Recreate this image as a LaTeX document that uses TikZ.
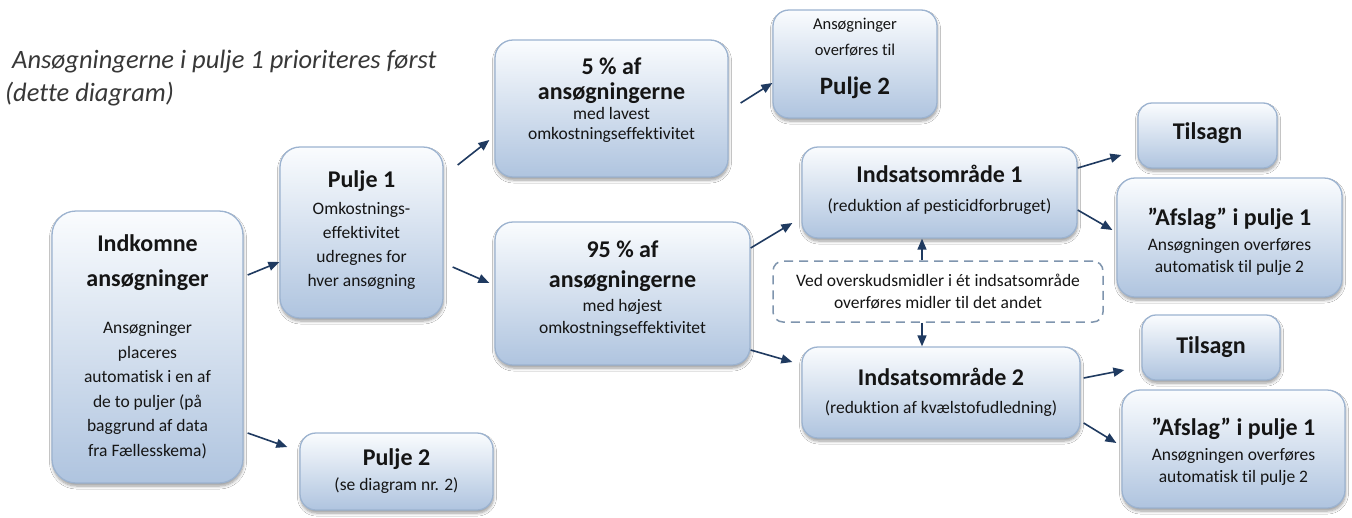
\documentclass[tikz,border=0pt]{standalone}
\usepackage{fontspec}
\setmainfont{Carlito}[Ligatures={NoCommon}]
\usetikzlibrary{shadows.blur,arrows.meta,calc}
\definecolor{arrc}{HTML}{1F3A60}
\definecolor{bord}{HTML}{9CB3D0}
\definecolor{topc}{HTML}{FAFCFE}
\definecolor{botc}{HTML}{AFC4DF}
\definecolor{dashc}{HTML}{7F95AE}
\definecolor{txt}{HTML}{151515}
\newcommand\hd[1]{{\fontsize{24}{24}\selectfont\bfseries #1}}
\newcommand\lsk{\lineskiplimit -50pt\relax}
\newcommand\bodyfs[1]{\fontsize{17.5}{#1}\selectfont\lsk}
\begin{document}
\begin{tikzpicture}[x=1pt,y=-1pt,
  box/.style={draw=bord, line width=1.3pt, rounded corners=16pt, top color=topc, bottom color=botc,
    inner sep=0pt, align=center, text=txt,
    blur shadow={shadow xshift=0.5pt, shadow yshift=-3pt, shadow blur radius=3pt, shadow blur steps=6, shadow opacity=40}},
  fs/.style={font={\bodyfs{#1}}},
  dbox/.style={draw=dashc, dash pattern=on 9pt off 6pt, line width=1.5pt, rounded corners=10pt, fill=white,
    inner sep=0pt, align=center, text=txt},
  arr/.style={draw=arrc, line width=1.6pt, -{Triangle[length=11pt,width=9pt]}}]
\useasboundingbox (0,0) rectangle (1352,517);
\fill[white] (0,0) rectangle (1352,517);

\node[anchor=north west, inner sep=0pt, align=left, text=txt!85,
  font={\fontsize{26.5}{33}\selectfont\itshape\lsk}] (title) at (5,50)
  {\hspace*{7pt}Ansøgningerne i pulje 1 prioriteres først\\(dette diagram)};

\node[box, fs=24.5, rounded corners=24pt, minimum width=191pt, minimum height=272pt] (indk) at (147.5,347)
  {\hd{Indkomne}\\[10.5pt]\hd{ansøgninger}\\[22.5pt]Ansøgninger\\placeres\\automatisk i en af\\de to puljer (på\\baggrund af data\\fra Fællesskema)};

\node[box, fs=24, rounded corners=20pt, minimum width=163pt, minimum height=171pt] (p1) at (361.5,232.5)
  {\hd{Pulje 1}\\[3pt]Omkostnings-\\effektivitet\\udregnes for\\hver ansøgning\\[-17pt]};

\node[box, fs=25, minimum width=193pt, minimum height=77pt] (p2) at (396.5,471.5)
  {\hd{Pulje 2}\\(se diagram nr. 2)};

\node[box, fs=20, rounded corners=18pt, minimum width=233pt, minimum height=137pt] (five) at (611.5,108.5)
  {\hd{5 \% af}\\[5pt]\hd{ansøgningerne}\\med lavest\\omkostningseffektivitet\\[0pt]};

\node[box, font={\fontsize{16.5}{26}\selectfont\lsk}, minimum width=164pt, minimum height=108pt] (ans) at (855,64)
  {Ansøgninger\\overføres til\\[13pt]{\fontsize{25}{25}\selectfont\bfseries Pulje 2}\\[-11pt]};

\node[box, fs=22, rounded corners=18pt, minimum width=255pt, minimum height=143pt] (ni) at (622.5,293.5)
  {\hd{95 \% af}\\[8pt]\hd{ansøgningerne}\\[2pt]med højest\\omkostningseffektivitet\\[-10pt]};

\node[box, fs=29, minimum width=275pt, minimum height=91pt] (ind1) at (939.5,192.5)
  {\hd{Indsatsområde 1}\\(reduktion af pesticidforbruget)\\[-20pt]};

\node[dbox, fs=22, minimum width=330pt, minimum height=61pt] (dash) at (938,291.5)
  {Ved overskudsmidler i ét indsatsområde\\overføres midler til det andet};

\node[box, fs=28, minimum width=278pt, minimum height=91pt] (ind2) at (941,392.5)
  {\hd{Indsatsområde 2}\\(reduktion af kvælstofudledning)};

\node[box, fs=20, rounded corners=14pt, minimum width=139pt, minimum height=65pt] (til1) at (1207.5,135.5)
  {\hd{Tilsagn}\\[-12pt]};

\node[box, fs=22, rounded corners=18pt, minimum width=225pt, minimum height=119pt] (af1) at (1229.5,237.5)
  {\hd{”Afslag” i pulje 1}\\[3pt]Ansøgningen overføres\\automatisk til pulje 2\\[-28pt]};

\node[box, fs=20, rounded corners=14pt, minimum width=138pt, minimum height=65pt] (til2) at (1211,347.5)
  {\hd{Tilsagn}};

\node[box, fs=22, rounded corners=18pt, minimum width=223pt, minimum height=118pt] (af2) at (1233.5,449)
  {\hd{”Afslag” i pulje 1}\\[3pt]Ansøgningen overføres\\automatisk til pulje 2\\[-25pt]};

\draw[arr] ($(indk.east)+(4,-72)$) -- ($(p1.west)+(0,29.5)$);
\draw[arr] ($(indk.east)+(4,86)$) -- ($(p2.west)+(-12,-24.5)$);
\draw[arr] ($(p1.east)+(14,-67.5)$) -- ($(five.west)+(-5,31.5)$);
\draw[arr] ($(p1.east)+(9,34.5)$) -- ($(ni.west)+(-5,-10.5)$);
\draw[arr] ($(five.east)+(12,-5.5)$) -- ($(ans.west)+(0,19)$);
\draw[arr] ($(ni.east)+(0,-45.5)$) -- ($(ind1.west)+(-9,30.5)$);
\draw[arr] ($(ni.east)+(0,56.5)$) -- ($(ind2.west)+(-9,-30.5)$);
\draw[arr] ($(dash.north)+(-16,0)$) -- ($(ind1.south)+(-17.5,0)$);
\draw[arr] ($(dash.south)+(-16,0)$) -- ($(ind2.north)+(-19,0)$);
\draw[arr] ($(ind1.east)+(0,-24.5)$) -- ($(til1.west)+(-16,19.5)$);
\draw[arr] ($(ind1.east)+(0,17.5)$) -- ($(af1.west)+(-4,-7.5)$);
\draw[arr] ($(ind2.east)+(3,-14.5)$) -- ($(til2.west)+(-17,22.5)$);
\draw[arr] ($(ind2.east)+(3,30.5)$) -- ($(af2.west)+(-5,-6)$);
\end{tikzpicture}
\end{document}
